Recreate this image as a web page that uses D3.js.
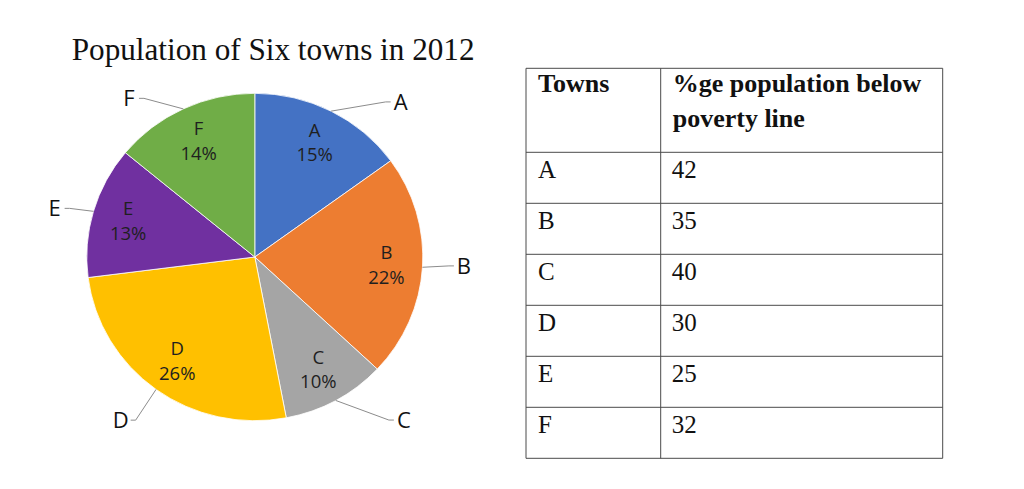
<!DOCTYPE html>
<html>
<head>
<meta charset="utf-8">
<script src="https://cdn.jsdelivr.net/npm/d3@7"></script>
<style>
  html, body { margin: 0; padding: 0; background: #fff; }
  svg { display: block; }
</style>
</head>
<body>
<script>
// ---- data ----
const towns = ["A", "B", "C", "D", "E", "F"];
const populationShare = [15, 22, 10, 26, 13, 14];
const povertyPct = [42, 35, 40, 30, 25, 32];
const tableHeader1 = ["Towns"];
const tableHeader2 = ["%ge population below", "poverty line"];
const titleText = "Population of Six towns in 2012";

// ---- layout / style ----
const W = 1024, H = 489;
const colors = ["#4472C4", "#ED7D31", "#A5A5A5", "#FFC000", "#7030A0", "#70AD47"];
const pie = { cx: 254.8, cy: 257, rx: 168, ry: 163.7 };
// outside label placement: [angle deg from 12 o'clock, radius factor]
const outerLabelPolar = [[42.5, 1.285], [92.5, 1.246], [138.3, 1.334], [218.7, 1.277], [284.0, 1.228], [322.3, 1.225]];
const innerLabelRadius = 0.785;
const table = { left: 526, divider: 660.7, right: 942.7, top: 68.3, headerBottom: 152.3, bottom: 458.3 };

const svg = d3.select("body").append("svg").attr("width", W).attr("height", H);
svg.append("rect").attr("width", W).attr("height", H).attr("fill", "#fff");

// title
const title = svg.append("text")
  .attr("x", 71.7).attr("y", 59.5)
  .attr("font-family", "'Liberation Serif', 'DejaVu Serif', serif")
  .attr("font-size", 28).attr("fill", "#111")
  .text(titleText);
const tw = title.node().getComputedTextLength();
title.attr("font-size", 28 * 403 / tw);

// pie
const pieGen = d3.pie().sort(null).value(d => d.v);
const data = towns.map((t, i) => ({ t, v: populationShare[i], c: colors[i] }));
const arcs = pieGen(data);
const R = 100;
const arcGen = d3.arc().innerRadius(0).outerRadius(R);
const pg = svg.append("g")
  .attr("transform", `translate(${pie.cx},${pie.cy}) scale(${pie.rx / R},${pie.ry / R})`);
pg.selectAll("path").data(arcs).join("path")
  .attr("d", arcGen)
  .attr("fill", d => d.data.c)
  .attr("stroke", "#fff")
  .attr("stroke-width", 0.8 * R / pie.rx);

function pt(angleRad, k) {
  return [pie.cx + pie.rx * k * Math.sin(angleRad), pie.cy - pie.ry * k * Math.cos(angleRad)];
}

// inside labels
const total = d3.sum(populationShare);
const inner = svg.append("g")
  .attr("font-family", "'Open Sans', 'Noto Sans', sans-serif")
  .attr("font-size", 18.5).attr("fill", "#1f1f1f").attr("text-anchor", "middle");
arcs.forEach(a => {
  const mid = (a.startAngle + a.endAngle) / 2;
  const [x, y] = pt(mid, innerLabelRadius);
  inner.append("text").attr("x", x).attr("y", y - 12.3).attr("dy", "0.35em").text(a.data.t);
  inner.append("text").attr("x", x).attr("y", y + 12.3).attr("dy", "0.35em")
    .text(Math.round(a.data.v / total * 100) + "%");
});

// outside labels with leader lines
const outer = svg.append("g");
arcs.forEach((a, i) => {
  const mid = (a.startAngle + a.endAngle) / 2;
  const [ad, k] = outerLabelPolar[i];
  const [lx, ly] = pt(ad * Math.PI / 180, k);
  const right = lx > pie.cx;
  const [sx, sy] = pt(mid, 1.0);
  const ex = right ? lx - 10 : lx + 10;
  const elbowX = right ? ex - 5 : ex + 5;
  outer.append("path")
    .attr("d", `M${sx},${sy}L${elbowX},${ly}L${ex},${ly}`)
    .attr("fill", "none").attr("stroke", "#8c8c8c").attr("stroke-width", 1);
  outer.append("text")
    .attr("x", lx).attr("y", ly).attr("dy", "0.36em")
    .attr("text-anchor", "middle")
    .attr("font-family", "'Open Sans', 'Noto Sans', sans-serif")
    .attr("font-size", 22).attr("fill", "#111")
    .text(a.data.t);
});

// table
const tg = svg.append("g");
const yRow = d3.scaleBand().domain(towns).range([table.headerBottom, table.bottom]);
const lineColor = "#4a4a4a";
const hLines = [table.top, table.headerBottom].concat(towns.map(t => yRow(t) + yRow.bandwidth()));
tg.selectAll("line.h").data(hLines).join("line")
  .attr("x1", table.left).attr("x2", table.right)
  .attr("y1", d => d).attr("y2", d => d)
  .attr("stroke", lineColor).attr("stroke-width", 1);
tg.selectAll("line.v").data([table.left, table.divider, table.right]).join("line")
  .attr("x1", d => d).attr("x2", d => d)
  .attr("y1", table.top).attr("y2", table.bottom)
  .attr("stroke", lineColor).attr("stroke-width", 1);

const serif = "'Liberation Serif', 'Times New Roman', serif";
tg.append("text").attr("x", table.left + 12).attr("y", 92)
  .attr("font-family", serif).attr("font-weight", "bold").attr("font-size", 26).attr("fill", "#111")
  .text(tableHeader1[0]);
tableHeader2.forEach((s, i) => {
  tg.append("text").attr("x", table.divider + 12).attr("y", 92 + i * 35)
    .attr("font-family", serif).attr("font-weight", "bold").attr("font-size", 26).attr("fill", "#111")
    .text(s);
});
towns.forEach((t, i) => {
  const y = yRow(t) + 25.5;
  tg.append("text").attr("x", table.left + 12).attr("y", y)
    .attr("font-family", serif).attr("font-size", 25).attr("fill", "#111").text(t);
  tg.append("text").attr("x", table.divider + 11).attr("y", y)
    .attr("font-family", serif).attr("font-size", 25).attr("fill", "#111").text(povertyPct[i]);
});
</script>
</body>
</html>
